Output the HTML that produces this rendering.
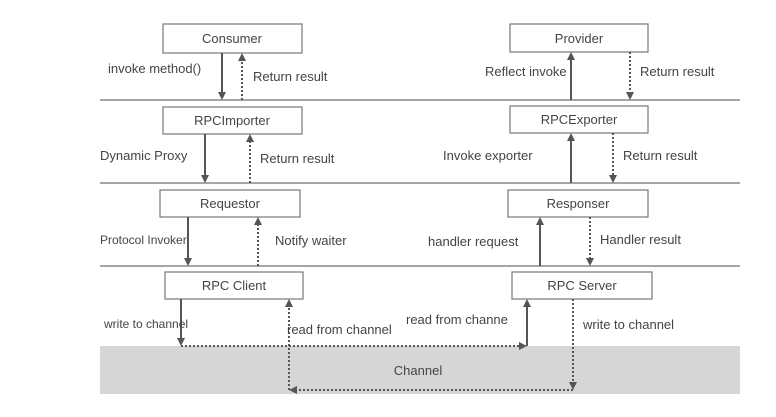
<!DOCTYPE html>
<html><head><style>
body{margin:0;background:#fff;}
svg text{font-family:"Liberation Sans",sans-serif;font-size:13px;fill:#444;}
</style></head><body>
<svg width="776" height="412" viewBox="0 0 776 412" xmlns="http://www.w3.org/2000/svg">
<defs>
<marker id="a" markerWidth="8" markerHeight="8" refX="4" refY="4" orient="auto" markerUnits="userSpaceOnUse"><path d="M0,0 L8,4 L0,8 z" fill="#555"/></marker>
</defs>
<rect x="100" y="346" width="640" height="48" fill="#d6d6d6"/>
<g stroke="#888" stroke-width="1.5">
<line x1="100" y1="100" x2="740" y2="100"/>
<line x1="100" y1="183" x2="740" y2="183"/>
<line x1="100" y1="266" x2="740" y2="266"/>
</g>
<g fill="#fff" stroke="#777" stroke-width="1.2">
<rect x="163" y="24" width="139" height="29"/>
<rect x="163" y="107" width="139" height="27"/>
<rect x="160" y="190" width="140" height="27"/>
<rect x="165" y="272" width="138" height="27"/>
<rect x="510" y="24" width="138" height="28"/>
<rect x="510" y="106" width="138" height="27"/>
<rect x="508" y="190" width="140" height="27"/>
<rect x="512" y="272" width="140" height="27"/>
</g>
<g text-anchor="middle">
<text x="232" y="43">Consumer</text>
<text x="232" y="125">RPCImporter</text>
<text x="230" y="208">Requestor</text>
<text x="234" y="290">RPC Client</text>
<text x="579" y="43">Provider</text>
<text x="579" y="124">RPCExporter</text>
<text x="578" y="208">Responser</text>
<text x="582" y="290">RPC Server</text>
<text x="418" y="375">Channel</text>
</g>
<g stroke="#555" stroke-width="2" fill="none">
<line x1="222" y1="53" x2="222" y2="96" marker-end="url(#a)"/>
<line x1="205" y1="134" x2="205" y2="179" marker-end="url(#a)"/>
<line x1="188" y1="217" x2="188" y2="262" marker-end="url(#a)"/>
<line x1="181" y1="299" x2="181" y2="342" marker-end="url(#a)"/>
<line x1="527" y1="346" x2="527" y2="303" marker-end="url(#a)"/>
<line x1="571" y1="100" x2="571" y2="56" marker-end="url(#a)"/>
<line x1="571" y1="183" x2="571" y2="137" marker-end="url(#a)"/>
<line x1="540" y1="266" x2="540" y2="221" marker-end="url(#a)"/>
</g>
<g stroke="#555" stroke-width="2" fill="none" stroke-dasharray="2,2">
<line x1="242" y1="100" x2="242" y2="57" marker-end="url(#a)"/>
<line x1="250" y1="183" x2="250" y2="138" marker-end="url(#a)"/>
<line x1="258" y1="266" x2="258" y2="221" marker-end="url(#a)"/>
<line x1="181" y1="346" x2="523" y2="346" marker-end="url(#a)"/>
<line x1="289" y1="390" x2="289" y2="303" marker-end="url(#a)"/>
<line x1="573" y1="390" x2="293" y2="390" marker-end="url(#a)"/>
<line x1="573" y1="299" x2="573" y2="386" marker-end="url(#a)"/>
<line x1="630" y1="52" x2="630" y2="96" marker-end="url(#a)"/>
<line x1="613" y1="133" x2="613" y2="179" marker-end="url(#a)"/>
<line x1="590" y1="217" x2="590" y2="262" marker-end="url(#a)"/>
</g>
<text x="108" y="73">invoke method()</text>
<text x="253" y="81">Return result</text>
<text x="100" y="160">Dynamic Proxy</text>
<text x="260" y="163">Return result</text>
<text x="100" y="244" style="font-size:12px">Protocol Invoker</text>
<text x="275" y="245">Notify waiter</text>
<text x="104" y="328" style="font-size:12px">write to channel</text>
<text x="287" y="334">read from channel</text>
<text x="406" y="324">read from channe</text>
<text x="583" y="329">write to channel</text>
<text x="485" y="76">Reflect invoke</text>
<text x="640" y="76">Return result</text>
<text x="443" y="160">Invoke exporter</text>
<text x="623" y="160">Return result</text>
<text x="428" y="246">handler request</text>
<text x="600" y="244">Handler result</text>
</svg>
</body></html>
